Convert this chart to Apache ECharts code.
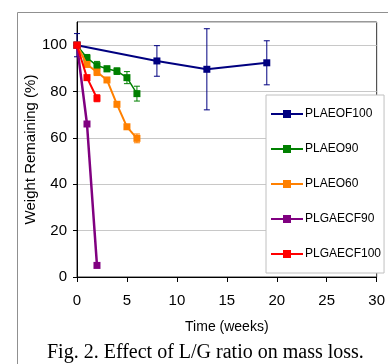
<!DOCTYPE html>
<html>
<head>
<meta charset="utf-8">
<script src="https://cdn.jsdelivr.net/npm/echarts@6/dist/echarts.min.js"></script>
<style>
  html, body { margin: 0; padding: 0; background: #fff; }
  #chart { width: 388px; height: 364px; }
</style>
</head>
<body>
<div id="chart"></div>
<script>
const names = ['PLAEOF100', 'PLAEO90', 'PLAEO60', 'PLGAECF90', 'PLGAECF100']
const colors = ['#000080', '#008000', '#FF8000', '#800080', '#FF0000']
const widths = [2, 1.5, 2, 2.5, 2]

// weeks, weight remaining (%), error (+/-)
const weeks = [
  [0, 8, 13, 19],
  [0, 1, 2, 3, 4, 5, 6],
  [0, 1, 2, 3, 4, 5, 6],
  [0, 1, 2],
  [0, 1, 2]
]
const remaining = [
  [100, 93.2, 89.6, 92.4],
  [100, 94.5, 91.2, 89.8, 88.8, 86, 79.1],
  [100, 91.7, 88.4, 85, 74.5, 64.8, 59.8],
  [100, 66, 5],
  [100, 86, 77.1]
]
const errors = [
  [5, 6.6, 17.5, 9.5],
  [0, 1.5, 1.8, 1.2, 1.4, 2.6, 3.2],
  [0, 1, 1.5, 1, 1, 1, 1.9],
  [0, 1, 1],
  [0, 1, 1.5]
]

const xTicks = [0, 5, 10, 15, 20, 25, 30]
const yTicks = [0, 20, 40, 60, 80, 100]

const font = '"Liberation Sans", Arial, sans-serif'

const lineSeries = names.map((name, i) => ({
  name,
  type: 'line',
  data: weeks[i].map((w, j) => [w, remaining[i][j]]),
  symbol: 'rect',
  symbolSize: 7,
  lineStyle: { color: colors[i], width: widths[i] },
  itemStyle: { color: colors[i] },
  z: 3 + i
}))

const errSeries = names.map((name, i) => ({
  name: 'err' + i,
  type: 'custom',
  data: weeks[i].map((w, j) => [w, remaining[i][j] - errors[i][j], remaining[i][j] + errors[i][j]]),
  renderItem: (params, api) => {
    const lo = api.coord([api.value(0), api.value(1)])
    const hi = api.coord([api.value(0), api.value(2)])
    const c = 3
    const style = { stroke: colors[i], lineWidth: 1 }
    return {
      type: 'group',
      children: [
        { type: 'line', shape: { x1: lo[0], y1: lo[1], x2: hi[0], y2: hi[1] }, style },
        { type: 'line', shape: { x1: lo[0] - c, y1: lo[1], x2: lo[0] + c, y2: lo[1] }, style },
        { type: 'line', shape: { x1: hi[0] - c, y1: hi[1], x2: hi[0] + c, y2: hi[1] }, style }
      ]
    }
  },
  z: 2 + i
}))

const chart = echarts.init(document.getElementById('chart'))
chart.setOption({
  animation: false,
  textStyle: { fontFamily: font },
  grid: {
    left: 77, top: 22, right: 5, bottom: 87,
    show: true, borderColor: '#333', borderWidth: 1, backgroundColor: '#fff'
  },
  graphic: [
    {
      type: 'rect', left: 15, top: 10, z: -10, silent: true,
      shape: { width: 420, height: 420 },
      style: { fill: 'none', stroke: '#909090', lineWidth: 1 }
    },
    {
      type: 'text', left: 47, top: 343,
      style: { text: 'Fig. 2. Effect of L/G ratio on mass loss.', font: '20px "Liberation Serif", "Times New Roman", serif', fill: '#000' }
    }
  ],
  xAxis: {
    type: 'value', min: 0, max: 30, interval: 5,
    name: 'Time (weeks)', nameLocation: 'middle', nameGap: 43,
    nameTextStyle: { fontSize: 14, color: '#000', fontFamily: font },
    axisLine: { lineStyle: { color: '#000', width: 1 } },
    axisTick: { show: true, length: 5, lineStyle: { color: '#000' } },
    axisLabel: { fontSize: 15, color: '#000', margin: 16, formatter: v => xTicks.includes(v) ? String(v) : '' },
    splitLine: { show: false }
  },
  yAxis: {
    type: 'value', min: 0, max: 110, interval: 20,
    name: 'Weight Remaining (%)', nameLocation: 'middle', nameGap: 39, nameMoveOverlap: false,
    nameTextStyle: { fontSize: 15, color: '#000', fontFamily: font },
    axisLine: { show: true, lineStyle: { color: '#000', width: 1 } },
    axisTick: { show: true, length: 4, lineStyle: { color: '#000' } },
    axisLabel: { fontSize: 15, color: '#000', margin: 10, showMaxLabel: false, formatter: v => yTicks.includes(v) ? String(v) : '' },
    splitLine: { show: true, lineStyle: { color: '#c8c8c8', width: 1 } }
  },
  legend: {
    data: names,
    orient: 'vertical',
    left: 266, top: 95,
    itemWidth: 32, itemHeight: 10, itemGap: 23,
    padding: [13, 3, 13, 4],
    backgroundColor: '#fff',
    borderColor: '#c0c0c0', borderWidth: 1,
    textStyle: { fontSize: 12, color: '#000', fontFamily: font, padding: [0, 0, 0, -3] }
  },
  series: [...errSeries, ...lineSeries]
})
</script>
</body>
</html>
